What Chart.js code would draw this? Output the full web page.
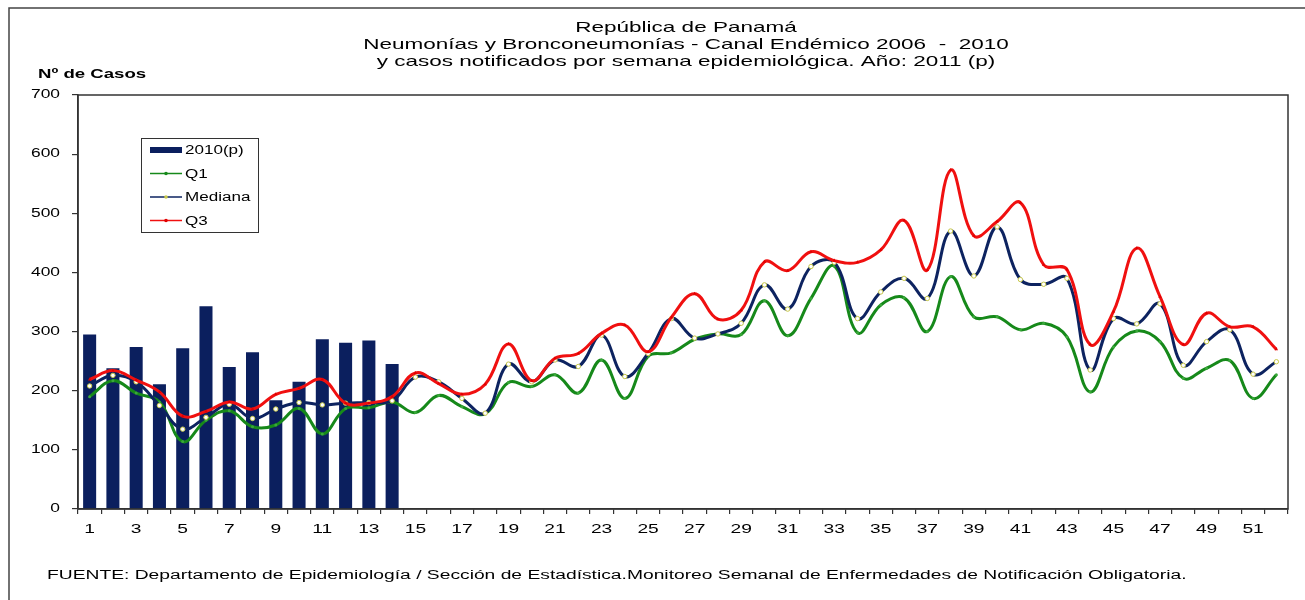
<!DOCTYPE html>
<html>
<head>
<meta charset="utf-8">
<script src="https://cdn.jsdelivr.net/npm/chart.js@4/dist/chart.umd.min.js"></script>
<style>
html,body{margin:0;padding:0;background:#fff;}
#wrap{position:relative;width:1305px;height:600px;}
canvas{display:block;}
</style>
</head>
<body>
<div id="wrap"><canvas id="c" width="1305" height="600"></canvas></div>
<script>
const weeks = Array.from({length: 52}, (_, i) => String(i + 1));
const titleLines = ["República de Panamá", "Neumonías y Bronconeumonías - Canal Endémico 2006  -  2010", "y casos notificados por semana epidemiológica. Año: 2011 (p)"];
const yAxisTitle = "Nº de Casos";
const footerText = "FUENTE: Departamento de Epidemiología / Sección de Estadística.Monitoreo Semanal de Enfermedades de Notificación Obligatoria.";

const casos2010 = [295, 238, 274, 211, 272, 343, 240, 265, 184, 215, 287, 281, 285, 245];
const q1 = [190, 217, 196, 181, 114, 150, 166, 139, 142, 170, 127, 170, 171, 181, 163, 192, 173, 161, 214, 207,
  227, 196, 252, 187, 258, 264, 287, 296, 295, 352, 293, 356, 411, 298, 345, 357, 300, 393, 325, 325,
  303, 314, 291, 198, 274, 301, 283, 221, 238, 251, 187, 227];
const mediana = [208, 226, 215, 175, 135, 155, 177, 153, 169, 180, 176, 179, 180, 183, 223, 215, 187, 162, 245, 215,
  252, 241, 294, 224, 263, 322, 289, 296, 314, 379, 338, 410, 417, 322, 367, 390, 356, 470, 394, 477,
  388, 380, 390, 235, 322, 313, 347, 243, 283, 303, 228, 249];
const q3 = [219, 234, 218, 198, 157, 165, 181, 169, 194, 204, 219, 179, 179, 190, 230, 212, 194, 211, 279, 217,
  255, 263, 297, 311, 266, 324, 364, 321, 336, 418, 403, 435, 420, 417, 438, 488, 404, 573, 462, 486,
  518, 413, 405, 278, 334, 441, 359, 278, 331, 308, 308, 270];
const yTicks = [0, 100, 200, 300, 400, 500, 600, 700];

const FONT = "'Liberation Sans', Arial, sans-serif";

function wideText(ctx, text, x, y, sx, align) {
  ctx.save();
  ctx.translate(x, y);
  ctx.scale(sx, 1);
  ctx.textAlign = align;
  ctx.fillText(text, 0, 0);
  ctx.restore();
}

const decor = {
  id: 'decor',
  beforeDraw(chart) {
    const ctx = chart.ctx;
    ctx.save();
    ctx.fillStyle = '#fff';
    ctx.fillRect(0, 0, chart.width, chart.height);
    ctx.strokeStyle = '#444';
    ctx.lineWidth = 1.5;
    ctx.beginPath();
    ctx.moveTo(9, chart.height);
    ctx.lineTo(9, 8);
    ctx.lineTo(chart.width, 8);
    ctx.stroke();
    ctx.restore();
  },
  afterDraw(chart) {
    const ctx = chart.ctx;
    const a = chart.chartArea;
    const xs = chart.scales.x, ys = chart.scales.y;
    ctx.save();
    // plot border
    ctx.strokeStyle = '#333';
    ctx.lineWidth = 1.5;
    ctx.strokeRect(a.left, a.top, a.right - a.left, a.bottom - a.top);
    ctx.fillStyle = '#000';
    ctx.textBaseline = 'middle';
    // tick labels
    ctx.font = '12px ' + FONT;
    xs.ticks.forEach((t, i) => {
      if (i % 2 === 0) wideText(ctx, weeks[i], xs.getPixelForTick(i), a.bottom + 21, 1.6, 'center');
    });
    yTicks.forEach(v => wideText(ctx, String(v), a.left - 18, ys.getPixelForValue(v), 1.45, 'right'));
    // title
    ctx.font = '15px ' + FONT;
    const cx = (a.left + a.right) / 2 + 3;
    titleLines.forEach((t, i) => wideText(ctx, t, cx, 28 + i * 17, 1.5, 'center'));
    // y axis title
    ctx.font = 'bold 12px ' + FONT;
    wideText(ctx, yAxisTitle, 38, a.top - 20, 1.55, 'left');
    // footer
    ctx.font = '12.5px ' + FONT;
    wideText(ctx, footerText, 47, 576, 1.54, 'left');
    // legend
    const lx = 141, ly = 138, lw = 117, lh = 94;
    ctx.fillStyle = '#fff';
    ctx.fillRect(lx, ly, lw, lh);
    ctx.strokeStyle = '#333';
    ctx.lineWidth = 1;
    ctx.strokeRect(lx + 0.5, ly + 0.5, lw, lh);
    const items = chart.data.datasets;
    ctx.font = '12px ' + FONT;
    items.forEach((d, i) => {
      const y = ly + 12 + i * 23.5;
      const x0 = lx + 9, x1 = lx + 41;
      if (d.type === 'bar') {
        ctx.fillStyle = d.backgroundColor;
        ctx.fillRect(x0, y - 3, x1 - x0, 6);
      } else {
        ctx.strokeStyle = d.borderColor;
        ctx.lineWidth = 1.5;
        ctx.beginPath();
        ctx.moveTo(x0, y);
        ctx.lineTo(x1, y);
        ctx.stroke();
        ctx.fillStyle = d.pointBorderColor;
        ctx.beginPath();
        ctx.arc((x0 + x1) / 2, y, 1.8, 0, Math.PI * 2);
        ctx.fill();
      }
      ctx.fillStyle = '#000';
      wideText(ctx, d.label, x1 + 3, y + 1, 1.42, 'left');
    });
    ctx.restore();
  }
};

new Chart(document.getElementById('c'), {
  data: {
    labels: weeks,
    datasets: [
      { type: 'bar', label: '2010(p)', data: casos2010, backgroundColor: '#0b1f5e', order: 4,
        barPercentage: 0.56, categoryPercentage: 1.0 },
      { type: 'line', label: 'Q1', data: q1, borderColor: '#16891a', backgroundColor: '#16891a',
        borderWidth: 3, tension: 0.4, pointRadius: 1.5, pointBorderWidth: 0, pointBackgroundColor: '#3aa83a',
        pointBorderColor: '#16891a', order: 3 },
      { type: 'line', label: 'Mediana', data: mediana, borderColor: '#0d2360', backgroundColor: '#0d2360',
        borderWidth: 3, tension: 0.4, pointRadius: 2.2, pointBorderWidth: 1, pointBackgroundColor: '#ffffff',
        pointBorderColor: '#c9c94a', order: 2 },
      { type: 'line', label: 'Q3', data: q3, borderColor: '#f01010', backgroundColor: '#f01010',
        borderWidth: 3, tension: 0.4, pointRadius: 2, pointStyle: 'triangle', pointBorderWidth: 0,
        pointBackgroundColor: '#e00000', pointBorderColor: '#e00000', order: 1 }
    ]
  },
  options: {
    responsive: false,
    animation: false,
    devicePixelRatio: 1,
    layout: { padding: { left: 0, right: 17, top: 95, bottom: 61 } },
    plugins: { legend: { display: false }, tooltip: { enabled: false }, title: { display: false } },
    scales: {
      x: {
        type: 'category',
        offset: true,
        grid: { display: true, offset: true, drawOnChartArea: false, drawTicks: true, tickLength: 5, color: '#333', lineWidth: 1.2 },
        border: { display: true, color: '#333', width: 1.5 },
        ticks: { autoSkip: false, maxRotation: 0, minRotation: 0, padding: 4, color: 'rgba(0,0,0,0)', font: { family: FONT, size: 12 } },
        afterFit(s) { s.height = 30; }
      },
      y: {
        min: 0, max: 700,
        afterBuildTicks(s) { s.ticks = yTicks.map(v => ({ value: v })); },
        grid: { display: true, drawOnChartArea: false, drawTicks: true, tickLength: 6, color: '#333', lineWidth: 1.2 },
        border: { display: true, color: '#333', width: 1.5 },
        ticks: { color: 'rgba(0,0,0,0)', padding: 12, font: { family: FONT, size: 12 } },
        afterFit(s) { s.width = 78; }
      }
    }
  },
  plugins: [decor]
});
</script>
</body>
</html>
